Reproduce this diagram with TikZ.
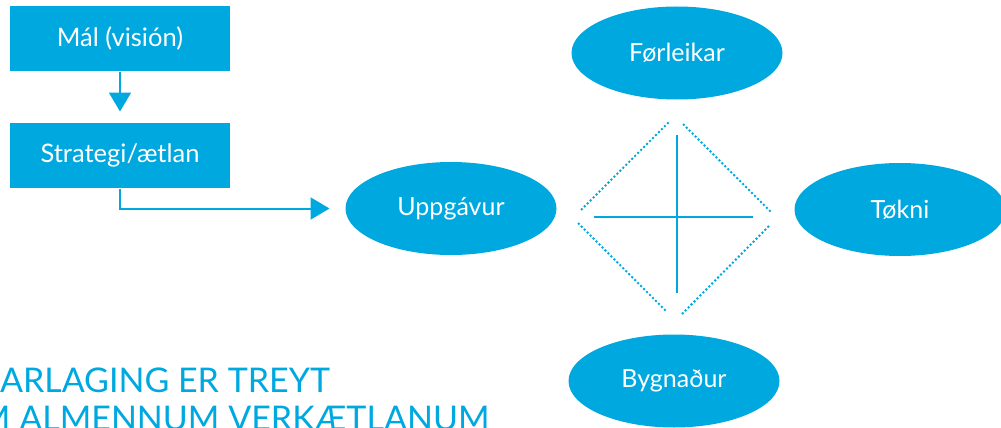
\documentclass[tikz,border=0pt]{standalone}
\usepackage{fontspec}
\setmainfont{Lato}
\usetikzlibrary{shapes, arrows.meta, positioning}
\definecolor{skyblue}{RGB}{0,168,224}

\begin{document}
\begin{tikzpicture}[x=1pt,y=-1pt,>={Triangle[width=22pt,length=19pt]},line width=2pt,draw=skyblue,node distance=116.5pt]
	\tikzset{box/.style={rectangle,fill=skyblue,text=white,minimum width=220pt,minimum height=65pt,font=\fontsize{25.5}{30}\selectfont}}
	\tikzset{oval/.style={ellipse,fill=skyblue,text=white,minimum width=211pt,minimum height=93pt,inner sep=0pt,font=\fontsize{25}{30}\selectfont}}
	\tikzset{dotline/.style={line width=2pt,dash pattern=on 2pt off 2.2pt}}
	\tikzset{heading/.style={inner sep=0pt,text=skyblue,font=\fontsize{34}{40}\selectfont}}
	\useasboundingbox (0,0) rectangle (1001,428);
	\clip (0,0) rectangle (1001,428);
	\node[box] (mal) at (120,38.5) {Mál (visión)};
	\node[box] (strat) [below of=mal] {Strategi/ætlan};
	\node[oval] (upp) at (451,208.5) {Uppgávur};
	\node[oval] (forl) at (677,53) {Førleikar};
	\node[oval] (tokni) at (900,209.5) {Tøkni};
	\node[oval] (byg) at (674,381) {Bygnaður};
	\path
		(mal)
			edge[->,shorten >=10pt] (strat);
	\draw[->,shorten >=15pt] (strat) |- (upp);
	% diamond
	\draw[dotline] (581,210) -- (670,121);
	\draw[dotline] (683,124) -- (772,213);
	\draw[dotline] (769,226) -- (681,315);
	\draw[dotline] (578,223) -- (667,312);
	\draw[line width=2.8pt] (677,135) -- (677,293);
	\draw[line width=2.8pt] (594,217) -- (753,217);
	% heading
	\node[heading,anchor=base west] (head1) at (-1,392) {ARLAGING ER TREYT};
	\node[heading,anchor=base west] (head2) at (-22,430) {M ALMENNUM VERKÆTLANUM};
\end{tikzpicture}
\end{document}
